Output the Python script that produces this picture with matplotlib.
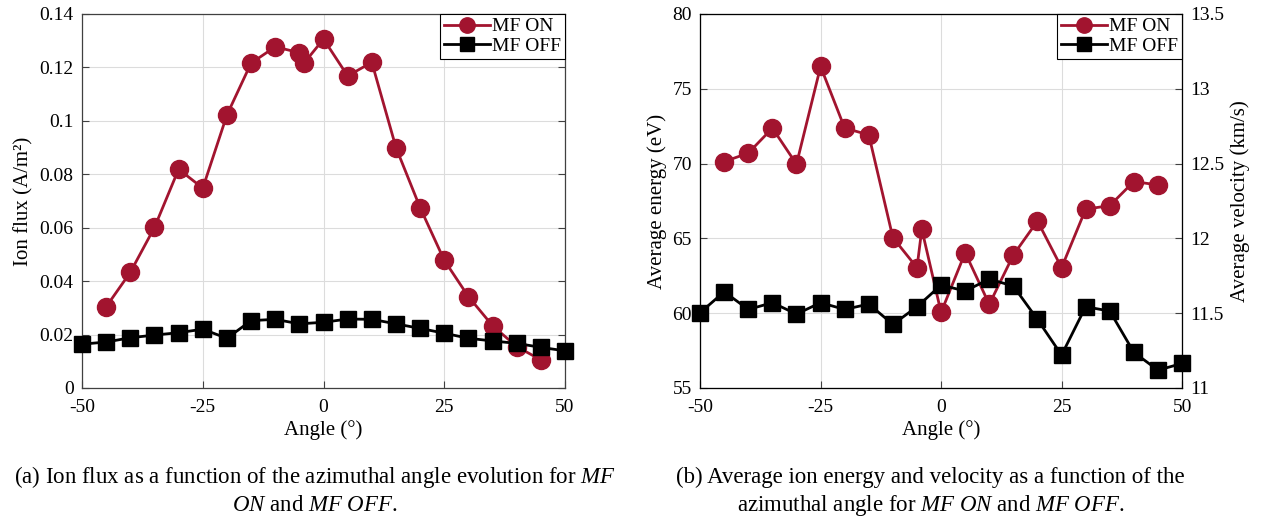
import matplotlib.pyplot as plt
import numpy as np
from matplotlib.ticker import FuncFormatter

plt.rcParams['font.family'] = ['Liberation Serif', 'DejaVu Serif']
plt.rcParams['mathtext.fontset'] = 'custom'
plt.rcParams['mathtext.rm'] = 'Liberation Serif'
plt.rcParams['mathtext.it'] = 'Liberation Serif:italic'
plt.rcParams['axes.unicode_minus'] = False

# angles (deg)
ang_on = [-45, -40, -35, -30, -25, -20, -15, -10, -5, -4, 0, 5, 10, 15, 20, 25, 30, 35, 40, 45]
ang_off = [-50, -45, -40, -35, -30, -25, -20, -15, -10, -5, 0, 5, 10, 15, 20, 25, 30, 35, 40, 45, 50]

# ion flux (A/m2)
flux_on = [0.0304, 0.0433, 0.0601, 0.0819, 0.0748, 0.1022, 0.1216, 0.1277, 0.1255, 0.1217,
           0.1306, 0.1168, 0.1219, 0.0900, 0.0675, 0.0478, 0.0342, 0.0233, 0.0155, 0.0105]
flux_off = [0.0164, 0.0172, 0.0188, 0.0198, 0.0207, 0.0220, 0.0186, 0.0252, 0.0257, 0.0240,
            0.0246, 0.0258, 0.0257, 0.0240, 0.0223, 0.0205, 0.0186, 0.0176, 0.0167, 0.0152, 0.0139]

# average energy (eV)
energy_on = [70.13, 70.70, 72.37, 69.96, 76.49, 72.37, 71.92, 65.05, 63.04, 65.61,
             60.05, 64.04, 60.59, 63.89, 66.16, 63.04, 66.95, 67.19, 68.80, 68.57]
energy_off = [60.03, 61.43, 60.25, 60.70, 59.94, 60.70, 60.25, 60.61, 59.25, 60.43,
              61.88, 61.48, 62.28, 61.81, 59.58, 57.20, 60.43, 60.14, 57.38, 56.19, 56.64]

red = '#A2142F'
fs = 14

fig = plt.figure(figsize=(12.66, 5.25), dpi=100)
ax1 = fig.add_axes([0.0648, 0.261, 0.3815, 0.7124])
ax2 = fig.add_axes([0.553, 0.261, 0.3807, 0.7124])


def style(ax):
    ax.set_xlim(-50, 50)
    ax.set_xticks([-50, -25, 0, 25, 50])
    ax.grid(True, color='#dcdcdc', linewidth=0.8)
    ax.set_axisbelow(True)
    ax.tick_params(direction='in', labelsize=fs, length=5, color='#404040')
    ax.tick_params(axis='x', pad=8)
    ax.tick_params(axis='y', pad=6)
    for s in ax.spines.values():
        s.set_color('#404040')
        s.set_linewidth(0.9)
    ax.set_xlabel('Angle (°)', fontsize=fs + 1, labelpad=3)


ax1.plot(ang_on, flux_on, '-o', color=red, lw=2, ms=13, label='MF ON', clip_on=False, zorder=3)
ax1.plot(ang_off, flux_off, '-s', color='black', lw=2, ms=12, label='MF OFF', clip_on=False, zorder=3)
ax1.set_ylim(0, 0.14)
ax1.set_yticks(np.arange(0, 0.141, 0.02))
ax1.yaxis.set_major_formatter(FuncFormatter(lambda v, p: '%g' % round(v, 2)))
ax1.yaxis.set_ticks_position('both')
style(ax1)
ax1.set_ylabel('Ion flux (A/m²)', fontsize=fs + 1)

ax2.plot(ang_on, energy_on, '-o', color=red, lw=2, ms=13, label='MF ON', clip_on=False, zorder=3)
ax2.plot(ang_off, energy_off, '-s', color='black', lw=2, ms=12, label='MF OFF', clip_on=False, zorder=3)
ax2.set_ylim(55, 80)
ax2.set_yticks([55, 60, 65, 70, 75, 80])
style(ax2)
ax2.set_ylabel('Average energy (eV)', fontsize=fs + 1)
ax2b = ax2.twinx()
ax2b.set_ylim(11, 13.5)
ax2b.set_yticks([11, 11.5, 12, 12.5, 13, 13.5])
ax2b.yaxis.set_major_formatter(FuncFormatter(lambda v, p: '%g' % v))
ax2b.tick_params(direction='in', labelsize=fs, length=5, color='#404040', pad=6)
ax2b.set_ylabel('Average velocity (km/s)', fontsize=fs + 1)

for ax in (ax1, ax2):
    leg = ax.legend(loc='upper right', fontsize=fs, fancybox=False, edgecolor='black',
                    framealpha=1, borderaxespad=0, borderpad=0.2, handlelength=2.4,
                    handletextpad=0.1, labelspacing=0.1, markerscale=0.85)
    leg.get_frame().set_linewidth(0.8)
    leg.set_zorder(5)

cfs = 16.5
fig.text(0.249, 0.0914, r'(a) Ion flux as a function of the azimuthal angle evolution for $\mathit{MF}$',
         ha='center', va='center', fontsize=cfs)
fig.text(0.249, 0.038, r'$\mathit{ON}$ and $\mathit{MF\ OFF}$.', ha='center', va='center', fontsize=cfs)
fig.text(0.735, 0.0914, '(b) Average ion energy and velocity as a function of the',
         ha='center', va='center', fontsize=cfs)
fig.text(0.735, 0.038, r'azimuthal angle for $\mathit{MF\ ON}$ and $\mathit{MF\ OFF}$.',
         ha='center', va='center', fontsize=cfs)

fig.savefig('out.png', dpi=100)
